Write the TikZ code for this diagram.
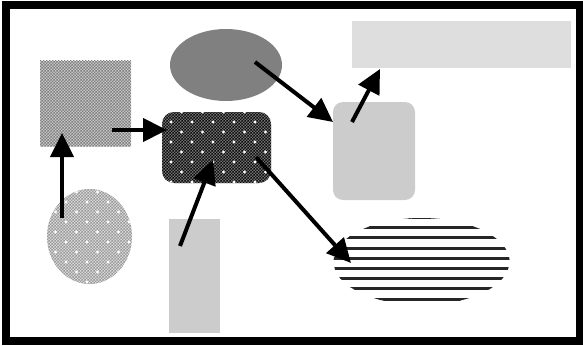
\documentclass[tikz,border=0pt]{standalone}
\usepackage{tikz}
\usetikzlibrary{arrows.meta,positioning,calc,patterns,shapes.geometric}

% fine checker
\pgfdeclarepatternformonly{finechk}{\pgfpointorigin}{\pgfqpoint{3.4pt}{3.4pt}}{\pgfqpoint{3.4pt}{3.4pt}}{
  \pgfpathrectangle{\pgfpointorigin}{\pgfqpoint{1.7pt}{1.7pt}}
  \pgfpathrectangle{\pgfqpoint{1.7pt}{1.7pt}}{\pgfqpoint{1.7pt}{1.7pt}}
  \pgfusepath{fill}}
% small white sparkles on a staggered grid
\pgfdeclarepatternformonly{sparkle}{\pgfqpoint{-1pt}{-1pt}}{\pgfqpoint{22pt}{21pt}}{\pgfqpoint{21pt}{20pt}}{
  \pgfpathcircle{\pgfqpoint{3pt}{3pt}}{1.6pt}
  \pgfpathcircle{\pgfqpoint{13.5pt}{13pt}}{1.6pt}
  \pgfusepath{fill}}
% thick horizontal bands
\pgfdeclarepatternformonly{hbands}{\pgfqpoint{-1pt}{0pt}}{\pgfqpoint{11pt}{10.2pt}}{\pgfqpoint{10pt}{10.2pt}}{
  \pgfpathrectangle{\pgfqpoint{-1pt}{3.5pt}}{\pgfqpoint{12pt}{3pt}}
  \pgfusepath{fill}}

\begin{document}
\begin{tikzpicture}[
  x=1pt, y=-1pt,
  blob/.style={inner sep=0pt, outer sep=0pt},
  checker/.style={preaction={fill=black!22}, pattern=finechk, pattern color=black!50},
  palechecker/.style={preaction={fill=black!15}, pattern=finechk, pattern color=black!40},
  darkchecker/.style={preaction={fill=black!55}, pattern=finechk, pattern color=black!95},
  sparkles/.style={postaction={pattern=sparkle, pattern color=white}},
  arr/.style={-{Triangle[length=24pt, width=23pt]}, line width=4pt}
]
\useasboundingbox (0,0) rectangle (583,345);

% ---------- Frame ----------
\draw[line width=8pt] (6,5.5) rectangle (579.5,341);

% ---------- Shapes ----------
\node[blob, checker, minimum width=91pt, minimum height=85pt] (chk) at (85.5,103.5) {};
\node[blob, ellipse, fill=black!50, minimum width=112pt, minimum height=72pt] (oval) at (226,65) {};
\node[blob, fill=black!13, minimum width=219pt, minimum height=47pt] (bar) at (461.5,44.5) {};
\node[blob, darkchecker, sparkles, rounded corners=12pt, minimum width=109pt, minimum height=71pt] (tile) at (216.5,147.5) {};
\node[blob, fill=black!20, rounded corners=10pt, minimum width=82pt, minimum height=98pt] (tall) at (374,151) {};
\node[blob, ellipse, palechecker, sparkles, minimum width=85pt, minimum height=95pt] (disc) at (89.5,236.5) {};
\node[blob, fill=black!20, minimum width=51pt, minimum height=114pt] (post) at (194.5,276) {};
\node[blob, ellipse, pattern=hbands, pattern color=black!85, minimum width=176pt, minimum height=87pt] (bands) at (421.5,261.5) {};

% ---------- Arrows ----------
\draw[arr] ($(disc.center)+(-27.5,-18.5)$) -- ($(chk.south)+(-23.5,-13)$);
\draw[arr] ($(chk.center)+(26.5,26.5)$) -- ($(tile.west)+(5,-17.5)$);
\draw[arr] ($(post.north)+(-14.5,27)$) -- ($(tile.center)+(-3.5,12.5)$);
\draw[arr] ($(oval.center)+(29,-3)$) -- ($(tall.north west)+(0,20)$);
\draw[arr] ($(tall.north west)+(19,20)$) -- ($(bar.south west)+(28,1)$);
\draw[arr] ($(tile.center)+(39.5,9.5)$) -- ($(bands.west)+(17.5,1.5)$);
\end{tikzpicture}
\end{document}
